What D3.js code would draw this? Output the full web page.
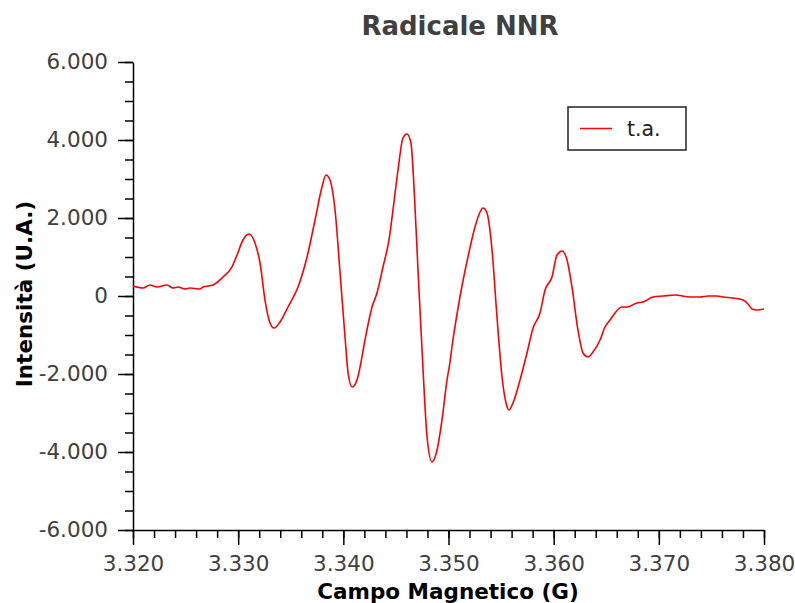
<!DOCTYPE html>
<html>
<head>
<meta charset="utf-8">
<script src="https://cdn.jsdelivr.net/npm/d3@7"></script>
<style>
  html, body { margin: 0; padding: 0; background: #fff; }
  svg { display: block; font-family: "DejaVu Sans", sans-serif; }
</style>
</head>
<body>
<svg id="chart" width="795" height="603"></svg>
<script>
// EPR spectrum of the NNR radical at room temperature (t.a.)
const seriesName = "t.a.";
const field = [
  3320.00, 3320.95, 3321.62, 3322.28, 3323.23, 3323.80, 3324.28, 3324.94, 3325.42, 3326.37,
  3326.66, 3327.61, 3328.56, 3329.41, 3329.89, 3330.46, 3331.03, 3331.60, 3332.08, 3332.55,
  3333.03, 3333.41, 3333.98, 3334.74, 3335.69, 3336.55, 3337.31, 3337.97, 3338.35, 3338.73,
  3339.21, 3339.69, 3340.16, 3340.45, 3340.83, 3341.30, 3341.59, 3342.06, 3342.73, 3343.20,
  3343.77, 3344.34, 3344.72, 3345.20, 3345.67, 3346.05, 3346.43, 3346.72, 3347.10, 3347.58,
  3347.96, 3348.43, 3348.91, 3349.38, 3349.86, 3350.14, 3350.33, 3351.09, 3351.85, 3352.52,
  3353.00, 3353.28, 3353.66, 3354.14, 3354.61, 3355.09, 3355.47, 3355.75, 3356.13, 3356.80,
  3357.46, 3358.04, 3358.70, 3359.18, 3359.84, 3360.32, 3360.80, 3361.27, 3361.74, 3362.31,
  3362.79, 3363.27, 3363.74, 3364.41, 3364.88, 3365.36, 3366.50, 3366.97, 3367.92, 3368.49,
  3369.45, 3370.40, 3371.54, 3372.96, 3373.92, 3374.68, 3375.53, 3376.10, 3377.05, 3378.00,
  3378.48, 3378.86, 3379.33, 3380.00
];
const intensity = [
  256, 205, 282, 231, 282, 205, 231, 179, 205, 179,
  231, 282, 487, 744, 1051, 1436, 1590, 1359, 846, -103,
  -692, -821, -667, -282, 231, 1000, 1949, 2795, 3103, 2974,
  2205, 590, -1051, -1974, -2333, -2154, -1821, -1128, -282, 77,
  744, 1436, 2205, 3231, 4051, 4154, 3923, 2795, 667, -1897,
  -3615, -4256, -3949, -3179, -2154, -1700, -1308, -26, 1000, 1769,
  2154, 2256, 2128, 1179, -538, -2077, -2744, -2923, -2744, -2154,
  -1462, -821, -436, 154, 487, 1051, 1154, 923, 231, -872,
  -1462, -1564, -1436, -1128, -795, -615, -282, -282, -179, -154,
  -26, 0, 26, -26, -26, 0, 0, -26, -51, -103,
  -205, -333, -359, -333
];
const xMajorTicks = [3320, 3330, 3340, 3350, 3360, 3370, 3380];
const yMajorTicks = [-6000, -4000, -2000, 0, 2000, 4000, 6000];

const svg = d3.select("#chart");
const margin = { left: 133, top: 62, right: 31, bottom: 73 };
const W = 795, H = 603;

const x = d3.scaleLinear().domain([3320, 3380]).range([margin.left, W - margin.right]);
const y = d3.scaleLinear().domain([-6000, 6000]).range([H - margin.bottom, margin.top]);

// Italian number format: dot as thousands separator, plain hyphen minus
const it = d3.formatLocale({ decimal: ",", thousands: ".", grouping: [3], currency: ["€", ""], minus: "-" });
const fmt = it.format(",d");

const axisColor = "#000";
const labelColor = "#404040";

// minor ticks
svg.append("g")
  .attr("transform", `translate(0,${y(-6000)})`)
  .call(d3.axisBottom(x).tickValues(d3.range(3320, 3381, 2)).tickSize(8).tickFormat(""))
  .call(g => g.select(".domain").remove());
svg.append("g")
  .attr("transform", `translate(${x(3320)},0)`)
  .call(d3.axisLeft(y).tickValues(d3.range(-6000, 6001, 500)).tickSize(8).tickFormat(""))
  .call(g => g.select(".domain").remove());

// major ticks and labels
const xAxis = svg.append("g")
  .attr("transform", `translate(0,${y(-6000)})`)
  .call(d3.axisBottom(x).tickValues(xMajorTicks).tickSize(15).tickSizeOuter(0).tickPadding(11).tickFormat(fmt));
const yAxis = svg.append("g")
  .attr("transform", `translate(${x(3320)},0)`)
  .call(d3.axisLeft(y).tickValues(yMajorTicks).tickSize(15).tickSizeOuter(0).tickPadding(10).tickFormat(fmt));

[xAxis, yAxis].forEach(g => {
  g.select(".domain").attr("stroke", axisColor).attr("stroke-width", 1.5);
  g.selectAll("text").attr("fill", labelColor).style("font-size", "21.5px")
    .style("font-family", "DejaVu Sans, sans-serif");
});
svg.selectAll("g line").attr("stroke", axisColor).attr("stroke-width", 1.5);

// spectrum line
const pts = field.map((f, i) => [f, intensity[i]]);
const line = d3.line().x(d => x(d[0])).y(d => y(d[1])).curve(d3.curveMonotoneX);
svg.append("path")
  .datum(pts)
  .attr("d", line)
  .attr("fill", "none")
  .attr("stroke", "#ff0000")
  .attr("stroke-width", 1.6);

// title
svg.append("text")
  .attr("x", 460).attr("y", 35)
  .attr("text-anchor", "middle")
  .attr("fill", labelColor)
  .style("font-size", "26px").style("font-weight", "bold")
  .text("Radicale NNR");

// axis titles
svg.append("text")
  .attr("x", 448).attr("y", 599)
  .attr("text-anchor", "middle")
  .attr("fill", "#000")
  .style("font-size", "21.5px").style("font-weight", "bold")
  .text("Campo Magnetico (G)");
svg.append("text")
  .attr("transform", `translate(32,${y(0) - 2}) rotate(-90)`)
  .attr("text-anchor", "middle")
  .attr("fill", "#000")
  .style("font-size", "21.5px").style("font-weight", "bold")
  .text("Intensità (U.A.)");

// legend
const lg = svg.append("g");
lg.append("rect")
  .attr("x", 568).attr("y", 107).attr("width", 118).attr("height", 43)
  .attr("fill", "#fff").attr("stroke", "#222").attr("stroke-width", 1.5);
lg.append("line")
  .attr("x1", 580).attr("x2", 612).attr("y1", 128.5).attr("y2", 128.5)
  .attr("stroke", "#ff0000").attr("stroke-width", 1.5);
lg.append("text")
  .attr("x", 627).attr("y", 136)
  .attr("fill", "#222")
  .style("font-size", "20.5px")
  .text(seriesName);
</script>
</body>
</html>
